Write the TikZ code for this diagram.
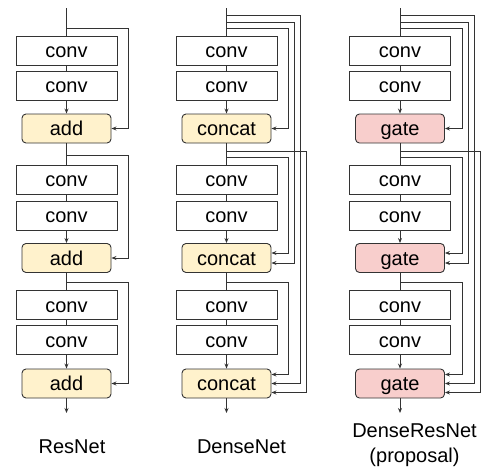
\documentclass[tikz,border=0pt]{standalone}
\usepackage{fontspec}
\setmainfont{Liberation Sans}
\usetikzlibrary{arrows.meta,calc}
\definecolor{addfill}{HTML}{FFF2CC}
\definecolor{gatefill}{HTML}{F8CECC}
\definecolor{ln}{HTML}{333333}
\begin{document}
\begin{tikzpicture}[x=1pt,y=-1pt,line width=0.9pt,
  txt/.style={font=\fontsize{20}{24}\selectfont},
  convbox/.style={txt,draw=ln,fill=white,minimum width=101pt,minimum height=29pt,inner sep=0pt,text height=14pt,text depth=0pt},
  mergebox/.style={txt,draw=ln,rounded corners=4pt,minimum width=89pt,minimum height=29pt,inner sep=0pt,text height=14pt,text depth=0pt},
  addstyle/.style={mergebox,fill=addfill},
  gatestyle/.style={mergebox,fill=gatefill},
  link/.style={draw=ln},
  arr/.style={draw=ln,-{Stealth[length=5pt,width=4pt]}},
  lbl/.style={font=\fontsize{20}{25}\selectfont,align=center}]
\useasboundingbox (0,0) rectangle (485,471);
% ---------------- ResNet ----------------
\coordinate (rtop) at (66.5,8);
\node[convbox] (r1a) at (66.5,50.5) {conv};
\node[convbox] (r1b) at (66.5,85.5) {conv};
\node[addstyle] (r1c) at (66.5,128.5) {add};
\node[convbox] (r2a) at (66.5,179.5) {conv};
\node[convbox] (r2b) at (66.5,215.5) {conv};
\node[addstyle] (r2c) at (66.5,258) {add};
\node[convbox] (r3a) at (66.5,305) {conv};
\node[convbox] (r3b) at (66.5,340) {conv};
\node[addstyle] (r3c) at (66.5,383.5) {add};
\coordinate (rout) at (66.5,413);
\draw[link] (rtop) -- (r1a);
\draw[link] (r1a) -- (r1b);
\draw[arr] (r1b) -- (r1c);
\draw[link] (r1c) -- (r2a);
\draw[link] (r2a) -- (r2b);
\draw[arr] (r2b) -- (r2c);
\draw[link] (r2c) -- (r3a);
\draw[link] (r3a) -- (r3b);
\draw[arr] (r3b) -- (r3c);
\draw[arr] (r3c) -- (rout);
\coordinate (rs1) at (66.5,28);
\coordinate (rs2) at (66.5,155);
\coordinate (rs3) at (66.5,282);
\draw[arr] (rs1) -- ++(61.5,0) |- (r1c.east);
\draw[arr] (rs2) -- ++(61.5,0) |- (r2c.east);
\draw[arr] (rs3) -- ++(61.5,0) |- (r3c.east);
\node[lbl] (rlbl) at (72,447) {ResNet};
% ---------------- DenseNet ----------------
\coordinate (dtop) at (226.5,8);
\node[convbox] (d1a) at (226.5,50.5) {conv};
\node[convbox] (d1b) at (226.5,85.5) {conv};
\node[addstyle] (d1c) at (226.5,128.5) {concat};
\node[convbox] (d2a) at (226.5,179.5) {conv};
\node[convbox] (d2b) at (226.5,215.5) {conv};
\node[addstyle] (d2c) at (226.5,258) {concat};
\node[convbox] (d3a) at (226.5,305) {conv};
\node[convbox] (d3b) at (226.5,340) {conv};
\node[addstyle] (d3c) at (226.5,383.5) {concat};
\coordinate (dout) at (226.5,413);
\draw[link] (dtop) -- (d1a);
\draw[link] (d1a) -- (d1b);
\draw[arr] (d1b) -- (d1c);
\draw[link] (d1c) -- (d2a);
\draw[link] (d2a) -- (d2b);
\draw[arr] (d2b) -- (d2c);
\draw[link] (d2c) -- (d3a);
\draw[link] (d3a) -- (d3b);
\draw[arr] (d3b) -- (d3c);
\draw[arr] (d3c) -- (dout);
\coordinate (ds0a) at (226.5,15);
\coordinate (ds0b) at (226.5,22);
\coordinate (ds0c) at (226.5,28);
\coordinate (ds1a) at (226.5,151);
\coordinate (ds1b) at (226.5,157);
\coordinate (ds2a) at (226.5,282);
\draw[arr] (ds0a) -- ++(74,0) |- (d3c.east);
\draw[arr] (ds0b) -- ++(67.75,0) |- ([yshift=-5pt]d2c.east);
\draw[arr] (ds0c) -- ++(61.5,0) |- (d1c.east);
\draw[arr] (ds1a) -- ++(80.25,0) |- ([yshift=-9pt]d3c.east);
\draw[arr] (ds1b) -- ++(61.5,0) |- ([yshift=5pt]d2c.east);
\draw[arr] (ds2a) -- ++(61.5,0) |- ([yshift=9pt]d3c.east);
\node[lbl] (dlbl) at (241.5,447) {DenseNet};
% ---------------- DenseResNet ----------------
\coordinate (gtop) at (400,8);
\node[convbox] (g1a) at (400,50.5) {conv};
\node[convbox] (g1b) at (400,85.5) {conv};
\node[gatestyle] (g1c) at (400,128.5) {gate};
\node[convbox] (g2a) at (400,179.5) {conv};
\node[convbox] (g2b) at (400,215.5) {conv};
\node[gatestyle] (g2c) at (400,258) {gate};
\node[convbox] (g3a) at (400,305) {conv};
\node[convbox] (g3b) at (400,340) {conv};
\node[gatestyle] (g3c) at (400,383.5) {gate};
\coordinate (gout) at (400,413);
\draw[link] (gtop) -- (g1a);
\draw[link] (g1a) -- (g1b);
\draw[arr] (g1b) -- (g1c);
\draw[link] (g1c) -- (g2a);
\draw[link] (g2a) -- (g2b);
\draw[arr] (g2b) -- (g2c);
\draw[link] (g2c) -- (g3a);
\draw[link] (g3a) -- (g3b);
\draw[arr] (g3b) -- (g3c);
\draw[arr] (g3c) -- (gout);
\coordinate (gs0a) at (400,15);
\coordinate (gs0b) at (400,22);
\coordinate (gs0c) at (400,28);
\coordinate (gs1a) at (400,151);
\coordinate (gs1b) at (400,157);
\coordinate (gs2a) at (400,282);
\draw[arr] (gs0a) -- ++(74,0) |- (g3c.east);
\draw[arr] (gs0b) -- ++(68,0) |- ([yshift=-5pt]g2c.east);
\draw[arr] (gs0c) -- ++(62,0) |- (g1c.east);
\draw[arr] (gs1a) -- ++(80,0) |- ([yshift=-9pt]g3c.east);
\draw[arr] (gs1b) -- ++(62,0) |- ([yshift=5pt]g2c.east);
\draw[arr] (gs2a) -- ++(62,0) |- ([yshift=9pt]g3c.east);
\node[lbl] (glbl) at (414.5,445.5) {DenseResNet\\(proposal)};
\end{tikzpicture}
\end{document}
